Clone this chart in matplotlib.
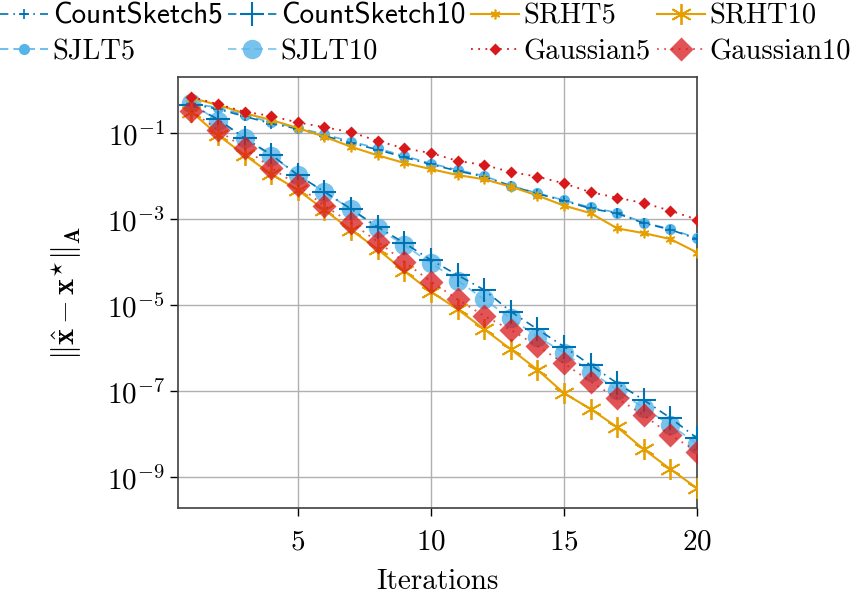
import matplotlib
matplotlib.use("Agg")
import matplotlib.pyplot as plt
import numpy as np

plt.rcParams['font.family'] = 'cmr10'
plt.rcParams['mathtext.fontset'] = 'cm'
plt.rcParams['axes.formatter.use_mathtext'] = True

iterations = list(range(1, 21))

countsketch5 = [0.48, 0.37, 0.25, 0.17, 0.128, 0.088, 0.060, 0.042, 0.028, 0.019,
                0.0135, 0.0098, 0.0060, 0.0040, 0.0027, 0.0018, 0.00138, 0.00082, 0.00058, 0.00035]
countsketch10 = [0.46, 0.214, 0.079, 0.032, 0.0108, 0.0044, 0.00175, 0.00067, 0.000284, 1.14e-4,
                 5.1e-5, 2.3e-5, 7.2e-6, 2.8e-6, 1.1e-6, 4.1e-7, 1.55e-7, 6.3e-8, 2.4e-8, 8.2e-9]
srht5 = [0.67, 0.46, 0.295, 0.206, 0.134, 0.084, 0.049, 0.031, 0.0206, 0.0148,
         0.0108, 0.0086, 0.0058, 0.0036, 0.0021, 0.0014, 0.00062, 0.00048, 0.00035, 0.00017]
srht10 = [0.32, 0.092, 0.0316, 0.0114, 0.00485, 0.00166, 0.00057, 0.000203, 6.3e-5, 2.1e-5,
          8.2e-6, 2.8e-6, 9.6e-7, 3.2e-7, 9.1e-8, 3.9e-8, 1.47e-8, 4.5e-9, 1.55e-9, 5.6e-10]
sjlt5 = [0.50, 0.40, 0.27, 0.18, 0.136, 0.095, 0.065, 0.045, 0.030, 0.020,
         0.0142, 0.0103, 0.0061, 0.0041, 0.0028, 0.0019, 0.00144, 0.00084, 0.0006, 0.000366]
sjlt10 = [0.50, 0.198, 0.077, 0.0305, 0.011, 0.0043, 0.00173, 0.00062, 0.000255, 9.6e-5,
          3.8e-5, 1.39e-5, 5.0e-6, 1.88e-6, 8.0e-7, 2.9e-7, 1.08e-7, 4.1e-8, 1.66e-8, 6.0e-9]
gaussian5 = [0.71, 0.48, 0.32, 0.255, 0.18, 0.14, 0.107, 0.067, 0.045, 0.035,
             0.023, 0.0185, 0.0127, 0.0099, 0.0069, 0.0043, 0.0032, 0.0024, 0.0016, 0.00099]
gaussian10 = [0.34, 0.12, 0.045, 0.016, 0.0062, 0.00206, 0.00084, 0.000305, 1.03e-4, 3.6e-5,
              1.39e-5, 5.7e-6, 2.7e-6, 1.14e-6, 4.5e-7, 1.69e-7, 6.9e-8, 2.8e-8, 9.7e-9, 4.0e-9]

c_cs = '#0072B2'
c_sj = '#56B4E9'
c_sr = '#E69F00'
c_ga = '#D7191C'
asterisk = (6, 2, 0)
lw = 1.2

fig = plt.figure(figsize=(8.62, 5.99), dpi=100)
ax = fig.add_axes([0.2065, 0.152, 0.6022, 0.7195])

h = {}
h['SJLT5'], = ax.plot(iterations, sjlt5, color=c_sj, ls=(0, (5, 3)), lw=lw, marker='o', ms=7, zorder=3)
h['SJLT10'], = ax.plot(iterations, sjlt10, color=c_sj, ls=(0, (5, 3)), lw=lw, marker='o', ms=14,
                       alpha=0.8, mec='none', zorder=3)
h['CountSketch5'], = ax.plot(iterations, countsketch5, color=c_cs, ls=(0, (5, 3, 1, 3)), lw=lw,
                             marker='+', ms=7, mew=1.2, zorder=4)
h['CountSketch10'], = ax.plot(iterations, countsketch10, color=c_cs, ls=(0, (5, 3, 1, 3)), lw=lw,
                              marker='+', ms=17, mew=1.5, zorder=4)
h['SRHT5'], = ax.plot(iterations, srht5, color=c_sr, ls='-', lw=1.5, marker=asterisk, ms=7, mew=1.2, zorder=5)
h['SRHT10'], = ax.plot(iterations, srht10, color=c_sr, ls='-', lw=1.5, marker=asterisk, ms=15, mew=1.3, zorder=5)
h['Gaussian5'], = ax.plot(iterations, gaussian5, color=c_ga, ls=(0, (1, 3)), lw=1.3, marker='D', ms=6,
                          mec='none', zorder=6)
h['Gaussian10'], = ax.plot(iterations, gaussian10, color=c_ga, ls=(0, (1, 3)), lw=1.3, marker='D', ms=12,
                           mec='none', alpha=0.75, zorder=6)

ax.set_yscale('log')
ax.set_xlim(0.5, 20)
ax.set_ylim(1.95e-10, 2.06)
ax.set_xticks([5, 10, 15, 20])
ax.set_yticks([1e-1, 1e-3, 1e-5, 1e-7, 1e-9])
ax.yaxis.set_minor_locator(matplotlib.ticker.NullLocator())
ax.tick_params(axis='both', which='major', labelsize=21, direction='out', length=6, width=1.0)
ax.tick_params(axis='x', pad=9)
ax.grid(True, color='#b0b0b0', lw=1.0)
ax.set_axisbelow(True)
for s in ax.spines.values():
    s.set_color('#404040')
    s.set_linewidth(1.2)

ax.set_xlabel('Iterations', fontsize=21, labelpad=10)
ax.set_ylabel(r'$\|\hat{\mathbf{x}}-\mathbf{x}^{\star}\|_{\mathbf{A}}$', fontsize=22, labelpad=16)

order = ['CountSketch5', 'SJLT5', 'CountSketch10', 'SJLT10', 'SRHT5', 'Gaussian5', 'SRHT10', 'Gaussian10']
leg = fig.legend([h[k] for k in order], order, loc='upper left', bbox_to_anchor=(0.0, 0.995),
                 ncol=4, frameon=False, fontsize=20.5, handlelength=1.7, handletextpad=0.15,
                 columnspacing=0.2, labelspacing=0.32, borderpad=0.0, borderaxespad=0.0)
for t in leg.get_texts():
    if t.get_text().startswith('CountSketch'):
        t.set_fontfamily('cmss10')
        t.set_fontsize(21)

fig.savefig('out.png', dpi=100)
